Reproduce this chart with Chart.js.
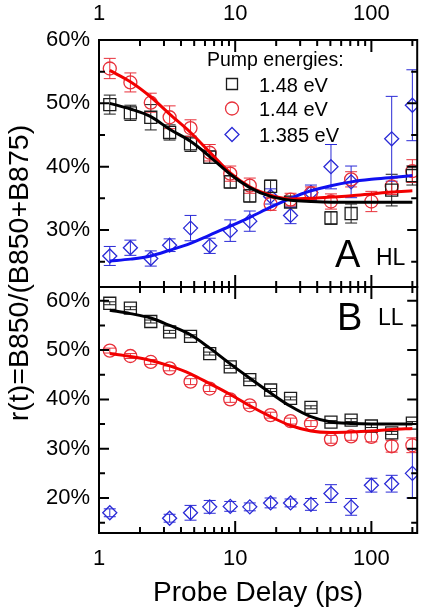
<!DOCTYPE html>
<html>
<head>
<meta charset="utf-8">
<script src="https://cdn.jsdelivr.net/npm/chart.js@4.4.0/dist/chart.umd.min.js"></script>
<style>
body { margin: 0; background: #fff; width: 427px; height: 616px; position: relative; overflow: hidden; }
canvas { position: absolute; left: 0; }
#cT { top: 0; }
#cA { top: 0; }
#cB { top: 264px; }
</style>
</head>
<body>
<canvas id="cT" width="40" height="616"></canvas>
<canvas id="cA" width="427" height="310"></canvas>
<canvas id="cB" width="427" height="352"></canvas>
<script>
// probe delays (ps), shared by both panels
var delaysPs = [1.2, 1.7, 2.4, 3.3, 4.7, 6.5, 9.2, 12.8, 18.2, 25.5, 36, 50.5, 71, 100, 141, 200];
var energyLabels = ['1.48 eV', '1.44 eV', '1.385 eV'];
var xTickVals = [1, 10, 100];
var yTicksHL = [30, 40, 50, 60];
var yTicksLL = [20, 30, 40, 50, 60];

// panel A (HL), values in %
var hl148 = [49.8, 48.5, 47.8, 45.4, 43.6, 41.5, 37.6, 35.4, 36.9, 34.4, null, 31.9, 32.6, null, 36.3, 38.6];
var hl148Err = [1.5, 1.2, 2.0, 1.2, 1.2, 1.0, 1.0, 1.0, 1.0, 0.8, null, 1.0, 1.5, null, 2.5, 1.5];
var hl144 = [55.5, 53.3, 50.1, 47.8, 46.1, 42.2, 38.9, 37.0, 34.1, 34.8, 35.8, 34.5, 38.0, 34.5, 36.9, 39.3];
var hl144Err = [1.6, 1.5, 1.5, 1.8, 1.3, 1.3, 1.2, 1.2, 1.0, 1.0, 1.0, 1.2, 1.2, 1.6, 1.3, 1.8];
var hl1385 = [25.9, 27.2, 25.5, 27.6, 30.3, 27.5, 29.9, 31.4, 35.3, 32.3, 35.9, 40.0, 37.6, null, 44.4, 49.7];
var hl1385Err = [1.5, 1.2, 1.2, 1.0, 2.0, 1.2, 1.7, 1.6, 1.2, 1.3, 1.2, 3.5, 2.5, null, 6.7, 5.6];
var hlFit148 = [50.0, 49.1, 47.9, 45.9, 44.0, 41.6, 38.8, 36.7, 35.3, 34.7, 34.5, 34.4, 34.4, 34.4, 34.4, 34.4];
var hlFit144 = [55.2, 53.4, 51.0, 48.3, 45.4, 42.3, 39.0, 36.8, 35.5, 34.9, 35.0, 35.2, 35.4, 35.7, 36.0, 36.2];
var hlFit1385 = [25.1, 25.4, 25.9, 26.8, 27.9, 29.2, 30.6, 32.0, 33.6, 35.0, 36.2, 37.0, 37.6, 38.0, 38.3, 38.6];

// panel B (LL), values in %
var ll148 = [59.5, 58.5, 55.8, 53.7, 52.8, 49.3, 46.6, 44.0, 41.9, 40.2, 38.4, 35.4, 35.8, 34.6, 33.2, 35.2];
var ll148Err = [0.3, 0.3, 0.3, 0.3, 0.3, 0.3, 0.3, 0.3, 0.3, 0.3, 0.3, 0.3, 0.3, 0.3, 0.3, 0.3];
var ll144 = [49.9, 48.8, 47.6, 46.3, 43.6, 42.2, 40.0, 38.8, 36.8, 35.6, 35.1, 31.9, 32.5, 32.4, 30.5, 30.7];
var ll144Err = [0.5, 0.5, 0.5, 0.5, 0.6, 0.6, 0.6, 0.6, 0.6, 0.6, 0.6, 0.8, 0.8, 1.0, 1.2, 1.5];
var ll1385 = [17.0, null, null, 15.9, 17.0, 18.2, 18.3, 18.2, 19.0, 19.0, 18.7, 20.9, 18.2, 22.6, 22.9, 25.0];
var ll1385Err = [0.8, null, null, 0.8, 1.5, 1.3, 1.0, 0.8, 1.0, 0.8, 1.2, 1.8, 1.7, 1.4, 1.7, 5.0];
var llFit148 = [58.1, 57.4, 56.5, 55.0, 53.1, 50.4, 47.2, 44.3, 41.3, 38.6, 36.5, 35.4, 35.1, 35.0, 35.0, 35.0];
var llFit144 = [49.3, 48.7, 47.9, 46.8, 45.2, 43.2, 41.0, 38.7, 36.5, 34.7, 33.6, 33.3, 33.4, 33.6, 33.9, 34.1];

var FONT = '"Liberation Sans", Arial, sans-serif';
Chart.defaults.font.family = FONT;
Chart.defaults.color = '#000';

var markColors = ['#1c1c1c', '#e8303a', '#2a2ad6'];
var lineColors = ['#000000', '#f20000', '#1010f0'];
var markStyles = ['rect', 'circle', 'rectRot'];
var markRadius = [8.5, 6.5, 7];

// shared y title, spans both panels; sized so the run is ~298px long
(function() {
    var c = document.getElementById('cT').getContext('2d');
    var txt = 'r(t)=B850/(B850+B875)';
    var size = 28.5;
    c.font = size + 'px ' + FONT;
    var w = c.measureText(txt).width;
    if (w > 0 && Math.abs(w - 298) > 6) size = size * 298 / w;
    c.save();
    c.translate(28, 273);
    c.rotate(-Math.PI / 2);
    c.font = size + 'px ' + FONT;
    c.fillStyle = '#000';
    c.textAlign = 'center';
    c.textBaseline = 'alphabetic';
    c.fillText(txt, 0, 0);
    c.restore();
})();

function toPts(vals, errs) {
    var pts = [];
    for (var i = 0; i < delaysPs.length; i++) {
        if (vals[i] === null) continue;
        pts.push({ x: delaysPs[i], y: vals[i], e: errs ? errs[i] : 0 });
    }
    return pts;
}

function markSet(k, vals, errs) {
    return {
        data: toPts(vals, errs),
        withErr: true,
        order: 1,
        pointStyle: markStyles[k],
        pointRadius: markRadius[k],
        pointBorderWidth: 1.3,
        borderColor: markColors[k],
        backgroundColor: 'rgba(0,0,0,0)'
    };
}

function fitSet(k, vals) {
    return {
        data: toPts(vals),
        showLine: true,
        order: 0,
        pointRadius: 0,
        borderWidth: 3,
        borderColor: lineColors[k],
        cubicInterpolationMode: 'monotone'
    };
}

// vertical error bars with caps
var errorBars = {
    id: 'errorBars',
    beforeDatasetsDraw: function(chart) {
        var ctx = chart.ctx, a = chart.chartArea, ys = chart.scales.y;
        ctx.save();
        ctx.beginPath();
        ctx.rect(a.left, a.top, a.right - a.left, a.bottom - a.top);
        ctx.clip();
        chart.data.datasets.forEach(function(ds, di) {
            if (!ds.withErr) return;
            var meta = chart.getDatasetMeta(di);
            ctx.strokeStyle = ds.borderColor;
            ctx.lineWidth = 1;
            meta.data.forEach(function(pt, i) {
                var d = ds.data[i];
                if (!d.e) return;
                var y1 = ys.getPixelForValue(d.y + d.e), y2 = ys.getPixelForValue(d.y - d.e);
                ctx.beginPath();
                ctx.moveTo(pt.x, y1); ctx.lineTo(pt.x, y2);
                ctx.moveTo(pt.x - 6, y1); ctx.lineTo(pt.x + 6, y1);
                ctx.moveTo(pt.x - 6, y2); ctx.lineTo(pt.x + 6, y2);
                ctx.stroke();
            });
        });
        ctx.restore();
    }
};

// box around the plot with inward ticks on all sides
var frameTicks = {
    id: 'frameTicks',
    afterDraw: function(chart) {
        var ctx = chart.ctx, a = chart.chartArea;
        var xs = chart.scales.x, ys = chart.scales.y;
        ctx.save();
        ctx.strokeStyle = '#000';
        ctx.lineWidth = 2;
        ctx.strokeRect(a.left, a.top, a.right - a.left, a.bottom - a.top);
        ctx.beginPath();
        for (var d = 1; d <= 100; d *= 10) {
            for (var m = 1; m < 10; m++) {
                var v = m * d;
                if (v < xs.min || v > xs.max) continue;
                var px = xs.getPixelForValue(v), len = m === 1 ? 12 : 6;
                ctx.moveTo(px, a.top); ctx.lineTo(px, a.top + len);
                ctx.moveTo(px, a.bottom); ctx.lineTo(px, a.bottom - len);
            }
        }
        for (var t = Math.ceil(ys.min / 5) * 5; t <= ys.max; t += 5) {
            var py = ys.getPixelForValue(t), l = t % 10 === 0 ? 10 : 6;
            ctx.moveTo(a.left, py); ctx.lineTo(a.left + l, py);
            ctx.moveTo(a.right, py); ctx.lineTo(a.right - l, py);
        }
        ctx.stroke();
        ctx.restore();
    }
};

// panel letter, tag and (panel A only) the legend
var panelText = {
    id: 'panelText',
    afterDraw: function(chart, args, o) {
        var ctx = chart.ctx;
        ctx.save();
        ctx.fillStyle = '#000';
        ctx.textBaseline = 'alphabetic';
        ctx.textAlign = 'left';
        ctx.font = '38px ' + FONT;
        ctx.fillText(o.letter, o.lx, o.ly);
        ctx.font = '23px ' + FONT;
        ctx.fillText(o.tag, o.tx, o.ty);
        if (o.legend) {
            ctx.font = '19.5px ' + FONT;
            ctx.fillText('Pump energies:', 207, 66);
            var rows = [84, 108.5, 134.5];
            ctx.font = '20px ' + FONT;
            for (var k = 0; k < 3; k++) {
                var y = rows[k];
                ctx.fillStyle = '#000';
                ctx.fillText(energyLabels[k], 259, y + 7.5);
                ctx.strokeStyle = markColors[k];
                ctx.lineWidth = 1.3;
                ctx.beginPath();
                if (k === 0) ctx.rect(232 - 5.5, y - 5.5, 11, 11);
                else if (k === 1) ctx.arc(232, y, 6.5, 0, Math.PI * 2);
                else { ctx.moveTo(232, y - 7); ctx.lineTo(239, y); ctx.lineTo(232, y + 7); ctx.lineTo(225, y); ctx.closePath(); }
                ctx.stroke();
            }
        }
        ctx.restore();
    }
};

function axisX(pos, withTitle) {
    return {
        type: 'logarithmic', position: pos, min: 1, max: 217,
        grid: { display: false, drawTicks: false }, border: { display: false },
        ticks: { font: { size: 22 }, padding: 13, maxRotation: 0, autoSkip: false, callback: function(v) { return String(v); } },
        title: { display: withTitle, text: 'Probe Delay (ps)', font: { size: 28 }, padding: { top: 0, bottom: 6 } },
        afterBuildTicks: function(s) { s.ticks = xTickVals.map(function(v) { return { value: v }; }); },
        afterFit: function(s) { s.height = pos === 'top' ? 40 : 83; }
    };
}

function axisY(mn, mx, tickVals) {
    return {
        min: mn, max: mx,
        grid: { display: false, drawTicks: false }, border: { display: false },
        ticks: { font: { size: 22 }, padding: 9, callback: function(v) { return v + '%'; } },
        afterBuildTicks: function(s) { s.ticks = tickVals.map(function(v) { return { value: v }; }); },
        afterFit: function(s) { s.width = 99; }
    };
}

new Chart(document.getElementById('cA'), {
    type: 'scatter',
    data: {
        datasets: [
            fitSet(0, hlFit148), fitSet(1, hlFit144), fitSet(2, hlFit1385),
            markSet(0, hl148, hl148Err), markSet(1, hl144, hl144Err), markSet(2, hl1385, hl1385Err)
        ]
    },
    options: {
        responsive: false, animation: false, devicePixelRatio: 1,
        layout: { padding: { left: 0, right: 8, top: 0, bottom: 23 } },
        plugins: {
            legend: { display: false }, tooltip: { enabled: false },
            panelText: { letter: 'A', lx: 335, ly: 267, tag: 'HL', tx: 376, ty: 265, legend: true }
        },
        scales: { x: axisX('top', false), y: axisY(21, 60, yTicksHL) }
    },
    plugins: [errorBars, frameTicks, panelText]
});

new Chart(document.getElementById('cB'), {
    type: 'scatter',
    data: {
        datasets: [
            fitSet(0, llFit148), fitSet(1, llFit144),
            markSet(0, ll148, ll148Err), markSet(1, ll144, ll144Err), markSet(2, ll1385, ll1385Err)
        ]
    },
    options: {
        responsive: false, animation: false, devicePixelRatio: 1,
        layout: { padding: { left: 0, right: 8, top: 23, bottom: 0 } },
        plugins: {
            legend: { display: false }, tooltip: { enabled: false },
            panelText: { letter: 'B', lx: 337, ly: 66, tag: 'LL', tx: 378, ty: 61, legend: false }
        },
        scales: { x: axisX('bottom', true), y: axisY(12.9, 62.8, yTicksLL) }
    },
    plugins: [errorBars, frameTicks, panelText]
});
</script>
</body>
</html>
